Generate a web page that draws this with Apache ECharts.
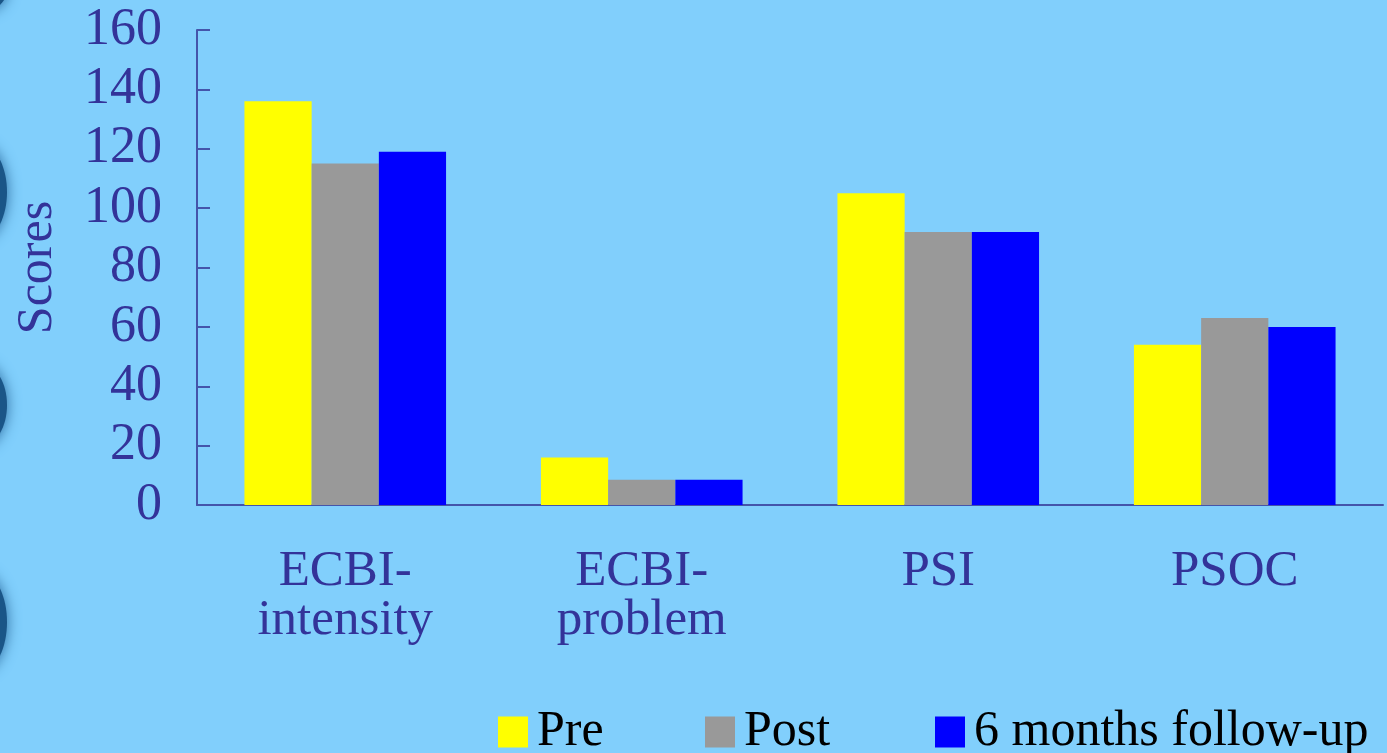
<!DOCTYPE html>
<html>
<head>
<meta charset="utf-8">
<script src="https://cdn.jsdelivr.net/npm/echarts@6/dist/echarts.min.js"></script>
<style>
  html, body { margin: 0; padding: 0; background: #81CFFC; }
  #main { width: 1387px; height: 753px; }
</style>
</head>
<body>
<div id="main"></div>
<script>
// chart data
var categories = ['ECBI-\nintensity', 'ECBI-\nproblem', 'PSI', 'PSOC'];
var preScores = [136, 16, 105, 54];
var postScores = [115, 8.5, 92, 63];
var followUpScores = [119, 8.5, 92, 60];
var yTicks = [0, 20, 40, 60, 80, 100, 120, 140, 160];

var axisColor = '#4455AA';
var textColor = '#333399';
var serif = '"Liberation Serif", "Times New Roman", serif';

var chart = echarts.init(document.getElementById('main'));

// dark crescents along the left edge of the slide background
function blob(cy, ry) {
    return {
        type: 'ellipse',
        silent: true,
        z: -10,
        shape: {cx: -20, cy: cy, rx: 27, ry: ry},
        style: {fill: '#1A5587', shadowBlur: 14, shadowColor: '#2A6A9E'}
    };
}

var option = {
    backgroundColor: '#81CFFC',
    animation: false,
    graphic: [blob(-10, 22), blob(192, 48), blob(405, 42), blob(622, 50)],
    legend: [
        {data: ['Pre'], left: 493, top: 702},
        {data: ['Post'], left: 700, top: 702},
        {data: ['6 months follow-up'], left: 930, top: 702}
    ].map(function (l) {
        l.itemWidth = 30;
        l.itemHeight = 31;
        l.icon = 'rect';
        l.itemGap = 0;
        l.textStyle = {color: '#000', fontFamily: serif, fontSize: 50, padding: [0, 0, 0, 4]};
        return l;
    }),
    grid: {left: 197, right: 4, top: 30, bottom: 248, containLabel: false, outerBoundsMode: 'none'},
    xAxis: {
        type: 'category',
        data: categories,
        axisLine: {lineStyle: {color: axisColor, width: 2}},
        axisTick: {inside: true, length: 13, lineStyle: {color: axisColor, width: 2}},
        axisLabel: {
            color: textColor,
            fontFamily: serif,
            fontSize: 51,
            lineHeight: 49,
            margin: 42,
            interval: 0
        }
    },
    yAxis: {
        type: 'value',
        min: yTicks[0],
        max: yTicks[yTicks.length - 1],
        interval: 20,
        name: 'Scores',
        nameLocation: 'middle',
        nameRotate: 90,
        nameGap: 134,
        nameTextStyle: {color: textColor, fontFamily: serif, fontSize: 50},
        axisLine: {show: true, lineStyle: {color: axisColor, width: 2}},
        axisTick: {show: true, inside: true, length: 13, lineStyle: {color: axisColor, width: 2}},
        splitLine: {show: false},
        axisLabel: {color: textColor, fontFamily: serif, fontSize: 52, margin: 35}
    },
    series: [
        {name: 'Pre', type: 'bar', data: preScores, itemStyle: {color: '#FFFF00'},
            barGap: '0%', barCategoryGap: '32%'},
        {name: 'Post', type: 'bar', data: postScores, itemStyle: {color: '#999999'}},
        {name: '6 months follow-up', type: 'bar', data: followUpScores, itemStyle: {color: '#0000FF'}}
    ]
};

chart.setOption(option);
</script>
</body>
</html>
